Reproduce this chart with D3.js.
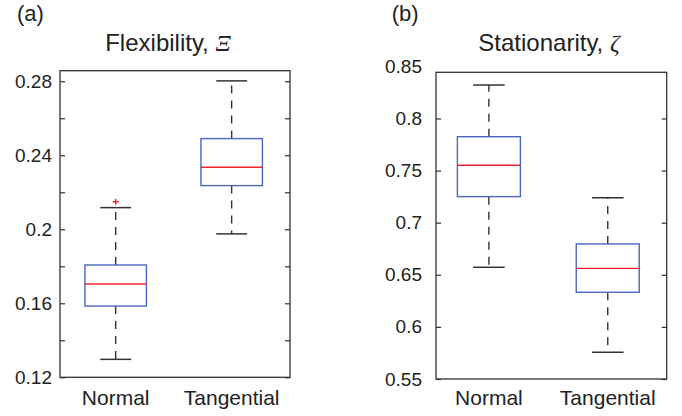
<!DOCTYPE html>
<html>
<head>
<meta charset="utf-8">
<script src="https://cdn.jsdelivr.net/npm/d3@7"></script>
<style>
  body { margin: 0; background: #fff; }
  svg { display: block; }
  text { font-family: "Liberation Sans", Arial, Helvetica, sans-serif; fill: #222; }
</style>
</head>
<body>
<svg id="chart" width="682" height="416"></svg>
<script>
// categories shared by both panels
const categories = ['Normal', 'Tangential'];

// (a) flexibility, box statistics per category
const flexLow = [0.1297, 0.1975];
const flexQ1 = [0.1585, 0.2236];
const flexMedian = [0.1704, 0.2335];
const flexQ3 = [0.1807, 0.2490];
const flexHigh = [0.2117, 0.2802];
const flexOutliers = [[0.2149], []];
const flexTicks = [0.12, 0.14, 0.16, 0.18, 0.2, 0.22, 0.24, 0.26, 0.28];
const flexTickLabels = [0.12, 0.16, 0.2, 0.24, 0.28];

// (b) stationarity, box statistics per category
const statLow = [0.6572, 0.5756];
const statQ1 = [0.7250, 0.6332];
const statMedian = [0.7551, 0.6562];
const statQ3 = [0.7825, 0.6796];
const statHigh = [0.8321, 0.7240];
const statOutliers = [[], []];
const statTicks = [0.55, 0.6, 0.65, 0.7, 0.75, 0.8];
const statTickLabels = [0.55, 0.6, 0.65, 0.7, 0.75, 0.8, 0.85];

const svg = d3.select('#chart');

const boxColor = '#4a68c0';
const medianColor = '#f0242a';
const whiskerColor = '#333';

const drawPanel = (p) => {
  const g = svg.append('g');

  const x = d3.scaleLinear().domain(p.xDomain).range([p.left, p.right]);
  const y = d3.scaleLinear().domain(p.yDomain).range([p.bottom, p.top]);

  // panel letter and title
  g.append('text')
    .attr('x', p.letterX)
    .attr('y', 21)
    .style('font-size', '22px')
    .text(p.letter);

  const title = g.append('text')
    .attr('x', p.titleX)
    .attr('y', 51)
    .attr('text-anchor', 'middle')
    .style('font-size', '24px');
  title.append('tspan').text(p.title + ', ');
  title.append('tspan')
    .style('font-family', '"Liberation Serif", "Times New Roman", serif')
    .style('font-style', 'italic')
    .text(p.symbol);

  // tick labels on the left
  const labelAxis = d3.axisLeft(y)
    .tickValues(p.tickLabels)
    .tickSize(0)
    .tickPadding(p.labelGap)
    .tickFormat((d) => String(+d.toFixed(2)));
  const la = g.append('g')
    .attr('transform', `translate(${p.left},0)`)
    .call(labelAxis);
  la.select('.domain').remove();
  la.selectAll('text').style('font-size', '19px').attr('fill', '#222');

  // inward tick marks on both sides
  const leftTicks = g.append('g')
    .attr('transform', `translate(${p.left},0)`)
    .call(d3.axisLeft(y).tickValues(p.ticks).tickSize(-5).tickFormat(''));
  const rightTicks = g.append('g')
    .attr('transform', `translate(${p.right},0)`)
    .call(d3.axisRight(y).tickValues(p.ticks).tickSize(-5).tickFormat(''));
  [leftTicks, rightTicks].forEach((a) => {
    a.select('.domain').remove();
    a.selectAll('line').attr('stroke', '#333').attr('stroke-width', 1.2);
  });

  // category labels under the frame
  g.selectAll('.cat')
    .data(categories)
    .enter()
    .append('text')
    .attr('class', 'cat')
    .attr('x', (d, i) => x(i + 1))
    .attr('y', 405)
    .attr('text-anchor', 'middle')
    .style('font-size', '21px')
    .text((d) => d);

  const boxes = g.selectAll('.box')
    .data(categories.map((c, i) => ({
      pos: i + 1,
      low: p.low[i], q1: p.q1[i], med: p.median[i], q3: p.q3[i], high: p.high[i],
      out: p.outliers[i]
    })))
    .enter()
    .append('g')
    .attr('class', 'box');

  const halfBox = 0.265;
  const halfCap = 0.133;

  // dashed whiskers
  boxes.append('line')
    .attr('x1', (d) => x(d.pos)).attr('x2', (d) => x(d.pos))
    .attr('y1', (d) => y(d.q3)).attr('y2', (d) => y(d.high))
    .attr('stroke', whiskerColor).attr('stroke-width', 1.4)
    .attr('stroke-dasharray', '8,7');
  boxes.append('line')
    .attr('x1', (d) => x(d.pos)).attr('x2', (d) => x(d.pos))
    .attr('y1', (d) => y(d.q1)).attr('y2', (d) => y(d.low))
    .attr('stroke', whiskerColor).attr('stroke-width', 1.4)
    .attr('stroke-dasharray', '8,7');

  // whisker caps
  ['low', 'high'].forEach((k) => {
    boxes.append('line')
      .attr('x1', (d) => x(d.pos - halfCap)).attr('x2', (d) => x(d.pos + halfCap))
      .attr('y1', (d) => y(d[k])).attr('y2', (d) => y(d[k]))
      .attr('stroke', whiskerColor).attr('stroke-width', 1.5);
  });

  // the box itself
  boxes.append('rect')
    .attr('x', (d) => x(d.pos - halfBox))
    .attr('y', (d) => y(d.q3))
    .attr('width', (d) => x(d.pos + halfBox) - x(d.pos - halfBox))
    .attr('height', (d) => y(d.q1) - y(d.q3))
    .attr('fill', 'none')
    .attr('stroke', boxColor)
    .attr('stroke-width', 1.4);

  // median
  boxes.append('line')
    .attr('x1', (d) => x(d.pos - halfBox)).attr('x2', (d) => x(d.pos + halfBox))
    .attr('y1', (d) => y(d.med)).attr('y2', (d) => y(d.med))
    .attr('stroke', medianColor).attr('stroke-width', 1.4);

  // outliers as red plus signs
  boxes.each(function (d) {
    d3.select(this)
      .selectAll('.outlier')
      .data(d.out)
      .enter()
      .append('path')
      .attr('class', 'outlier')
      .attr('d', (v) => {
        const cx = x(d.pos), cy = y(v);
        return `M${cx - 3},${cy}H${cx + 3}M${cx},${cy - 3}V${cy + 3}`;
      })
      .attr('stroke', medianColor)
      .attr('stroke-width', 1.4);
  });

  // frame
  g.append('rect')
    .attr('x', p.left)
    .attr('y', p.top)
    .attr('width', p.right - p.left)
    .attr('height', p.bottom - p.top)
    .attr('fill', 'none')
    .attr('stroke', '#333')
    .attr('stroke-width', 1.3);
};

drawPanel({
  left: 60, right: 290, top: 70.7, bottom: 377.3,
  xDomain: [0.52, 2.503],
  yDomain: [0.12, 0.2857],
  ticks: flexTicks, tickLabels: flexTickLabels, labelGap: 8,
  title: 'Flexibility', symbol: 'Ξ', titleX: 168,
  letter: '(a)', letterX: 17,
  low: flexLow, q1: flexQ1, median: flexMedian, q3: flexQ3, high: flexHigh,
  outliers: flexOutliers
});

drawPanel({
  left: 436, right: 666.7, top: 72.3, bottom: 379,
  xDomain: [0.555, 2.496],
  yDomain: [0.55, 0.8443],
  ticks: statTicks, tickLabels: statTickLabels, labelGap: 14,
  title: 'Stationarity', symbol: 'ζ', titleX: 549,
  letter: '(b)', letterX: 391.7,
  low: statLow, q1: statQ1, median: statMedian, q3: statQ3, high: statHigh,
  outliers: statOutliers
});
</script>
</body>
</html>
